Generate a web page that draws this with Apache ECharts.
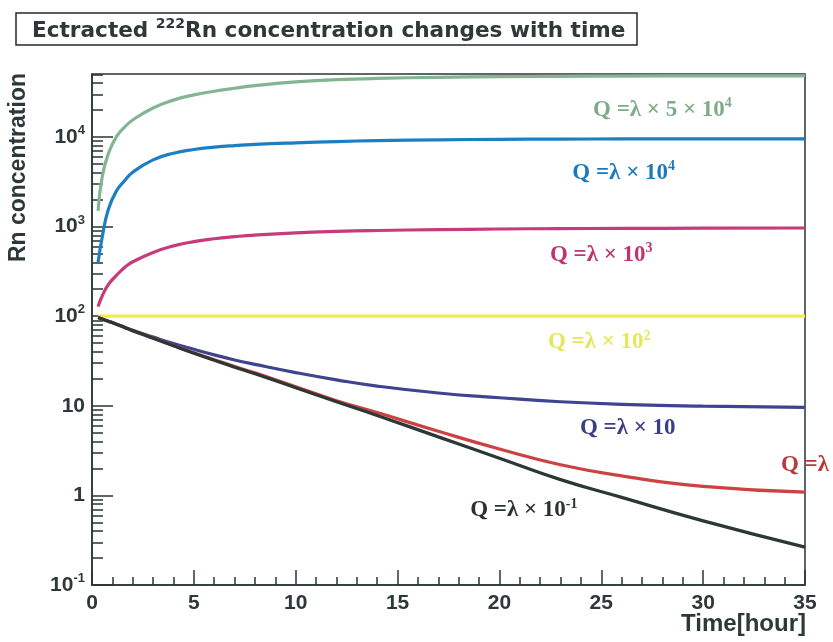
<!DOCTYPE html>
<html>
<head>
<meta charset="utf-8">
<script src="https://cdn.jsdelivr.net/npm/echarts@6/dist/echarts.min.js"></script>
<style>
  html, body { margin: 0; padding: 0; background: #ffffff; }
  #chart { width: 833px; height: 642px; }
</style>
</head>
<body>
<div id="chart"></div>
<script>
// Sampling times (hours)
const hours = [0.3, 0.5, 0.8, 1.2, 1.6, 2, 3, 4, 5, 6, 7, 8, 10, 12, 14, 17, 20, 23, 26, 30, 35];

// Rn concentration for each source strength Q
const q5e4 = [1500, 3600, 6500, 10100, 12900, 15500, 21100, 25800, 29500, 32400, 35000, 37400, 41200, 43600, 45100, 46400, 47100, 47600, 47900, 48100, 48200];
const q1e4 = [400, 760, 1550, 2500, 3250, 4050, 5550, 6600, 7250, 7700, 8030, 8280, 8620, 8900, 9120, 9310, 9420, 9480, 9520, 9540, 9550];
const q1e3 = [128, 168, 225, 285, 350, 405, 515, 610, 680, 732, 772, 805, 852, 884, 905, 925, 940, 950, 955, 960, 965];
const q1e2 = [100, 100, 100, 100, 100, 100, 100, 100, 100, 100, 100, 100, 100, 100, 100, 100, 100, 100, 100, 100, 100];
const q1e1 = [96.5, 93, 88, 81.5, 75.5, 69.5, 58.5, 49.5, 42.7, 37, 32.5, 29, 23.5, 19.5, 16.6, 13.9, 12.3, 11.1, 10.4, 9.9, 9.6];
const q1e0 = [96.5, 93, 88, 81.5, 75, 69, 57, 47, 39, 32.7, 27.5, 23.3, 16.3, 11.4, 8.4, 5.2, 3.3, 2.2, 1.65, 1.26, 1.09];
const q1em1 = [96.5, 93, 88, 81.5, 75, 69, 56.8, 46.7, 38.6, 32.2, 27, 22.8, 15.9, 11.1, 7.8, 4.5, 2.6, 1.5, 0.95, 0.52, 0.265];

// Axis ticks
const xMajorTicks = [0, 5, 10, 15, 20, 25, 30, 35];
const yMajorTicks = [0.1, 1, 10, 100, 1000, 10000];
const yMinorTicks = [
  0.2, 0.3, 0.4, 0.5, 0.6, 0.7, 0.8, 0.9,
  2, 3, 4, 5, 6, 7, 8, 9,
  20, 30, 40, 50, 60, 70, 80, 90,
  200, 300, 400, 500, 600, 700, 800, 900,
  2000, 3000, 4000, 5000, 6000, 7000, 8000, 9000,
  20000, 30000, 40000, 50000
];

const axisColor = '#2b3535';
const textColor = '#2e3838';
const sans = '"Liberation Sans", Arial, Helvetica, sans-serif';
const wideSans = '"DejaVu Sans", "Liberation Sans", sans-serif';
const serif = '"Liberation Serif", "Times New Roman", serif';
const Y_MIN = 0.1, Y_MAX = 50500;

function pairs(values) {
  return hours.map((t, i) => [t, values[i]]);
}

function curve(name, values, color, labelText, labelSup, labelAt, labelColor) {
  const rich = {
    m: { fontFamily: serif, fontWeight: 'bold', fontSize: 23, lineHeight: 27, color: labelColor },
    s: { fontFamily: serif, fontWeight: 'bold', fontSize: 14, lineHeight: 14, color: labelColor, verticalAlign: 'top' }
  };
  return {
    name: name,
    type: 'line',
    data: pairs(values),
    showSymbol: false,
    smooth: 0.5,
    clip: true,
    lineStyle: { color: color, width: 3.2 },
    itemStyle: { color: color },
    markPoint: {
      silent: true,
      symbol: 'circle',
      symbolSize: 0,
      label: {
        show: true,
        position: 'inside',
        formatter: labelSup ? '{m|' + labelText + '}{s|' + labelSup + '}' : '{m|' + labelText + '}',
        rich: rich
      },
      data: [{ coord: labelAt }]
    }
  };
}

function yTickLabel(v) {
  const e = Math.round(Math.log10(v));
  if (e === 0) return '{b|1}';
  if (e === 1) return '{b|10}';
  return '{b|10}{s|' + e + '}';
}

const chart = echarts.init(document.getElementById('chart'), null, { renderer: 'canvas' });

chart.setOption({
  animation: false,
  backgroundColor: '#ffffff',
  title: {
    text: '{t|Ectracted }{s|222}{t|Rn concentration changes with time}',
    left: 16,
    top: 13,
    padding: [4, 12, 3, 16],
    borderColor: '#222a2a',
    borderWidth: 1.5,
    textStyle: {
      rich: {
        t: { fontFamily: wideSans, fontWeight: 'bold', fontSize: 21.6, lineHeight: 28, color: textColor },
        s: { fontFamily: wideSans, fontWeight: 'bold', fontSize: 14, lineHeight: 14, color: textColor, verticalAlign: 'top' }
      }
    }
  },
  grid: {
    left: 92, right: 28, top: 74, bottom: 57,
    show: true,
    borderColor: axisColor,
    borderWidth: 1.5,
    backgroundColor: 'transparent'
  },
  xAxis: {
    type: 'value',
    min: 0, max: 35, interval: 5,
    axisLine: { onZero: false, lineStyle: { color: axisColor, width: 1.5 } },
    axisTick: { inside: true, length: 15, lineStyle: { color: axisColor, width: 1.5 } },
    minorTick: { show: true, splitNumber: 5, length: 8, lineStyle: { color: axisColor, width: 1.5 } },
    axisLabel: {
      margin: 8,
      fontFamily: sans, fontWeight: 'bold', fontSize: 21, color: textColor,
      customValues: xMajorTicks
    },
    splitLine: { show: false },
    minorSplitLine: { show: false }
  },
  yAxis: [
    {
      type: 'log',
      logBase: 10,
      min: Y_MIN, max: Y_MAX,
      axisLine: { lineStyle: { color: axisColor, width: 1.5 } },
      axisTick: { inside: true, length: 21, customValues: yMajorTicks, lineStyle: { color: axisColor, width: 1.5 } },
      axisLabel: {
        margin: 7,
        customValues: yMajorTicks,
        formatter: yTickLabel,
        rich: {
          b: { fontFamily: sans, fontWeight: 'bold', fontSize: 21, lineHeight: 26, color: textColor },
          s: { fontFamily: sans, fontWeight: 'bold', fontSize: 13, lineHeight: 13, color: textColor, verticalAlign: 'top' }
        }
      },
      splitLine: { show: false }
    },
    {
      type: 'log',
      logBase: 10,
      min: Y_MIN, max: Y_MAX,
      position: 'left',
      offset: 0,
      axisLine: { show: false },
      axisTick: { inside: true, length: 11, customValues: yMinorTicks, lineStyle: { color: axisColor, width: 1.5 } },
      axisLabel: { show: false },
      splitLine: { show: false }
    }
  ],
  graphic: [
    {
      type: 'text',
      x: 19, y: 73,
      rotation: Math.PI / 2,
      style: {
        text: 'Rn concentration',
        font: 'bold 23px ' + sans,
        fill: textColor,
        align: 'right', textAlign: 'right',
        verticalAlign: 'middle', textVerticalAlign: 'middle'
      }
    },
    {
      type: 'text',
      x: 806, y: 624,
      style: {
        text: 'Time[hour]',
        font: 'bold 24px ' + sans,
        fill: textColor,
        align: 'right', textAlign: 'right',
        verticalAlign: 'middle', textVerticalAlign: 'middle'
      }
    }
  ],
  series: [
    curve('Q = λ × 5 × 10^4', q5e4, '#84b592', 'Q =λ × 5 × 10', '4', [28.0, 20000], '#7eac88'),
    curve('Q = λ × 10^4', q1e4, '#1b7fc2', 'Q =λ × 10', '4', [26.1, 3960], '#1b79bd'),
    curve('Q = λ × 10^3', q1e3, '#c73a7b', 'Q =λ × 10', '3', [25.0, 487], '#c2346f'),
    curve('Q = λ × 10^2', q1e2, '#f0ef48', 'Q =λ × 10', '2', [24.9, 51], '#e6e65a'),
    curve('Q = λ × 10', q1e1, '#3f4490', 'Q =λ × 10', '', [26.3, 5.68], '#3b4086'),
    curve('Q = λ', q1e0, '#cc4242', 'Q =λ', '', [35.0, 2.16], '#b83a3a'),
    curve('Q = λ × 10^-1', q1em1, '#2c3836', 'Q =λ × 10', '-1', [21.2, 0.68], '#2a3232')
  ]
});
</script>
</body>
</html>
